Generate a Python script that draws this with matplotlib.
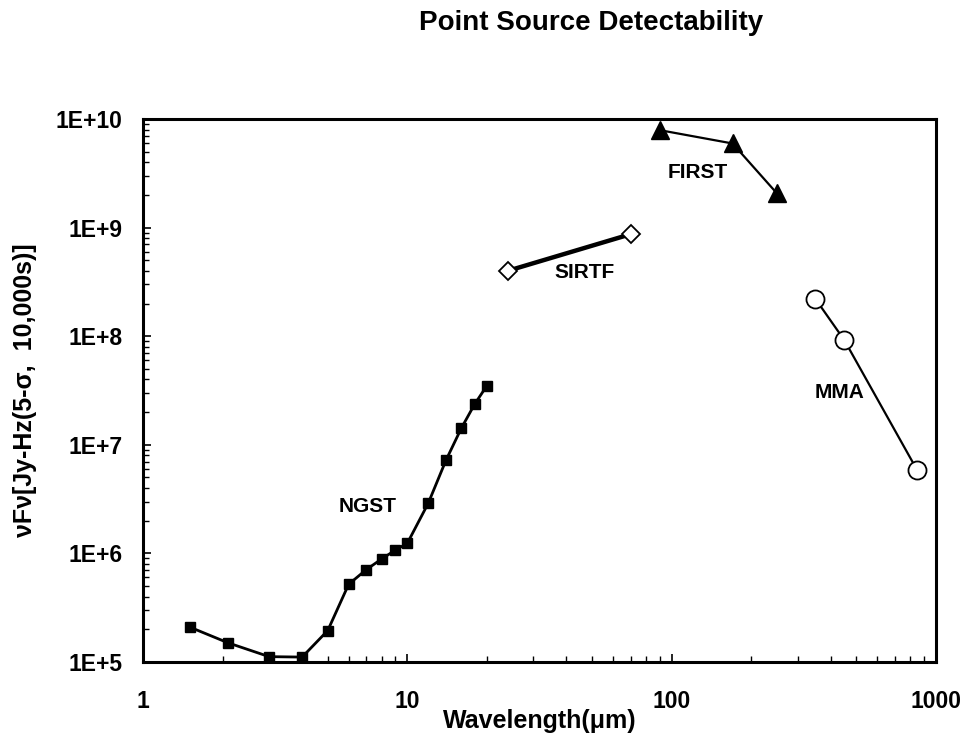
import matplotlib
matplotlib.use("Agg")
import matplotlib.pyplot as plt
from matplotlib.ticker import LogLocator, FixedLocator, FixedFormatter, NullFormatter

plt.rcParams['font.family'] = ['Liberation Sans', 'DejaVu Sans']

# Data
ngst_wl = [1.5, 2.1, 3, 4, 5, 6, 7, 8, 9, 10, 12, 14, 16, 18, 20]
ngst_val = [2.1e5, 1.5e5, 1.12e5, 1.11e5, 1.95e5, 5.2e5, 7.1e5, 8.9e5, 1.07e6, 1.24e6,
            2.9e6, 7.2e6, 1.42e7, 2.38e7, 3.5e7]
sirtf_wl = [24, 70]
sirtf_val = [4.0e8, 8.7e8]
first_wl = [90, 170, 250]
first_val = [7.9e9, 5.95e9, 2.07e9]
mma_wl = [350, 450, 850]
mma_val = [2.2e8, 9.2e7, 5.8e6]

x_ticks = [1, 10, 100, 1000]
x_ticklabels = ['1', '10', '100', '1000']
y_ticks = [1e5, 1e6, 1e7, 1e8, 1e9, 1e10]
y_ticklabels = ['1E+5', '1E+6', '1E+7', '1E+8', '1E+9', '1E+10']

W, H = 965, 747
fig = plt.figure(figsize=(W / 100, H / 100), dpi=100)
ax = fig.add_axes([143 / W, 1 - 662 / H, (936 - 143) / W, (662 - 119) / H])

ax.plot(ngst_wl, ngst_val, color='black', lw=2.0, marker='s', ms=7.5,
        mfc='black', mec='black', zorder=3)
ax.plot(sirtf_wl, sirtf_val, color='black', lw=3.2, marker='D', ms=9,
        mfc='white', mec='black', mew=1.3, zorder=3)
ax.plot(first_wl, first_val, color='black', lw=1.6, marker='^', ms=13,
        mfc='black', mec='black', zorder=3)
ax.plot(mma_wl, mma_val, color='black', lw=1.6, marker='o', ms=13,
        mfc='white', mec='black', mew=1.3, zorder=3)

ax.set_xscale('log')
ax.set_yscale('log')
ax.set_xlim(1, 1000)
ax.set_ylim(1e5, 1e10)

ax.xaxis.set_major_locator(FixedLocator(x_ticks))
ax.xaxis.set_major_formatter(FixedFormatter(x_ticklabels))
ax.yaxis.set_major_locator(FixedLocator(y_ticks))
ax.yaxis.set_major_formatter(FixedFormatter(y_ticklabels))
ax.xaxis.set_minor_locator(LogLocator(base=10, subs=range(2, 10), numticks=20))
ax.yaxis.set_minor_locator(LogLocator(base=10, subs=range(2, 10), numticks=20))
ax.xaxis.set_minor_formatter(NullFormatter())
ax.yaxis.set_minor_formatter(NullFormatter())

ax.tick_params(axis='both', which='both', direction='in', top=False, right=False)
ax.tick_params(axis='both', which='major', length=6, width=1.2)
ax.tick_params(axis='both', which='minor', length=4, width=1.0)
ax.tick_params(axis='x', which='major', pad=20, labelsize=16.5)
ax.tick_params(axis='y', which='major', pad=15, labelsize=16.5)
for lab in ax.get_xticklabels() + ax.get_yticklabels():
    lab.set_fontweight('bold')

for sp in ax.spines.values():
    sp.set_linewidth(2.2)

ax.set_xlabel('Wavelength(\u03bcm)', fontsize=18, fontweight='bold', labelpad=-3)
ax.set_ylabel('\u03bdF\u03bd[Jy-Hz(5-\u03c3,  10,000s)]', fontsize=18, fontweight='bold', labelpad=13)

fig.text(591 / W, 1 - 30 / H, 'Point Source Detectability', fontsize=20,
         fontweight='bold', ha='center', va='baseline')

lab_kw = dict(fontsize=15, fontweight='bold', ha='center', va='center')
ax.text(7.06, 2.69e6, 'NGST', **lab_kw)
ax.text(47, 3.84e8, 'SIRTF', **lab_kw)
ax.text(126, 3.2e9, 'FIRST', **lab_kw)
ax.text(430, 3.02e7, 'MMA', **lab_kw)

fig.savefig('out.png', dpi=100)
